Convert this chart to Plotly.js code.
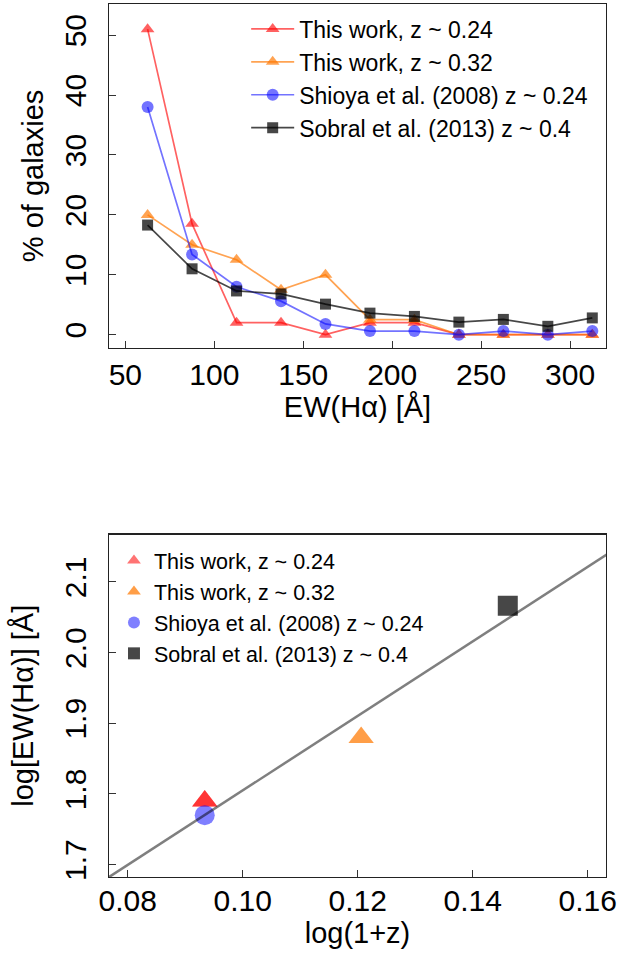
<!DOCTYPE html>
<html>
<head>
<meta charset="utf-8">
<script src="https://cdn.plot.ly/plotly-3.0.1.min.js"></script>
<style>html,body{margin:0;padding:0;background:#fff;}#chart{width:617px;height:953px;}</style>
</head>
<body>
<div id="chart"></div>
<script>
// ---- Top panel: distribution of EW(Halpha) ----
const ewBins = [62.5, 87.5, 112.5, 137.5, 162.5, 187.5, 212.5, 237.5, 262.5, 287.5, 312.5];
const thisWork024 = [51, 18.5, 2, 2, 0, 2, 2, 0, 0, 0, 0];
const thisWork032 = [20, 15, 12.5, 7.5, 10, 2.5, 2.5, 0, 0, 0, 0];
const shioya2008 = [38, 13.4, 8, 5.6, 1.8, 0.6, 0.6, 0, 0.6, 0, 0.6];
const sobral2013 = [18.3, 11, 7.3, 6.8, 5.1, 3.6, 3.05, 2.1, 2.55, 1.4, 2.8];
const seriesNames = ["This work, z ~ 0.24", "This work, z ~ 0.32", "Shioya et al. (2008) z ~ 0.24", "Sobral et al. (2013) z ~ 0.4"];
const xTicksTop = [50, 100, 150, 200, 250, 300];
const yTicksTop = [0, 10, 20, 30, 40, 50];

// ---- Bottom panel: median log EW vs log(1+z) ----
const logOnePlusZ = [0.0934, 0.1206, 0.0934, 0.1461];
const logEW = [1.79, 1.88, 1.77, 2.066];
const fitSlope = 5.27;
const fitIntercept = 1.278;
const fitXExtent = [0.07, 0.17];
const xTicksBot = [0.08, 0.10, 0.12, 0.14, 0.16];
const yTicksBot = [1.7, 1.8, 1.9, 2.0, 2.1];

const cRed = 'rgba(255,0,0,0.62)';
const cOrange = 'rgba(255,120,0,0.68)';
const cBlue = 'rgba(0,0,255,0.55)';
const cBlack = 'rgba(0,0,0,0.72)';
const FONT = 'Liberation Sans, Arial, Helvetica, sans-serif';

const topSeries = [
  {y: thisWork024, color: cRed, symbol: 'triangle-up', size: 12},
  {y: thisWork032, color: cOrange, symbol: 'triangle-up', size: 12},
  {y: shioya2008, color: cBlue, symbol: 'circle', size: 12},
  {y: sobral2013, color: cBlack, symbol: 'square', size: 11}
];

const traces = [];
topSeries.forEach((s, i) => {
  traces.push({
    type: 'scatter', mode: 'lines+markers', x: ewBins, y: s.y, name: seriesNames[i],
    xaxis: 'x', yaxis: 'y', legend: 'legend', cliponaxis: false,
    line: {color: s.color, width: 1.7},
    marker: {color: s.color, symbol: s.symbol, size: s.size}
  });
});

const botStyle = [
  {color: 'rgba(255,0,0,0.55)', symbol: 'triangle-up', size: 22},
  {color: 'rgba(255,120,0,0.72)', symbol: 'triangle-up', size: 22},
  {color: 'rgba(0,0,255,0.5)', symbol: 'circle', size: 20},
  {color: 'rgba(0,0,0,0.72)', symbol: 'square', size: 20}
];
botStyle.forEach((s, i) => {
  traces.push({
    type: 'scatter', mode: 'markers', x: [logOnePlusZ[i]], y: [logEW[i]], name: seriesNames[i],
    xaxis: 'x2', yaxis: 'y2', legend: 'legend2',
    marker: {color: s.color, symbol: s.symbol, size: s.size}
  });
  if (i === 0) {
    traces.push({
      type: 'scatter', mode: 'markers', x: [logOnePlusZ[i]], y: [logEW[i]], showlegend: false,
      xaxis: 'x2', yaxis: 'y2', marker: {color: s.color, symbol: s.symbol, size: s.size}
    });
  }
});
traces.push({
  type: 'scatter', mode: 'lines', showlegend: false, xaxis: 'x2', yaxis: 'y2',
  x: fitXExtent, y: fitXExtent.map(v => fitIntercept + fitSlope * v),
  line: {color: 'rgba(0,0,0,0.5)', width: 2.5}
});

const axisCommon = {
  showline: true, mirror: true, linecolor: '#222', linewidth: 1.2,
  ticks: 'inside', ticklen: 7, tickwidth: 1, tickcolor: '#333',
  showgrid: false, zeroline: false,
  tickfont: {family: FONT, size: 30, color: '#000'}
};
const titleFont = {family: FONT, size: 29, color: '#000'};

const layout = {
  width: 617, height: 953,
  margin: {l: 109, r: 11, t: 4, b: 76},
  paper_bgcolor: '#fff', plot_bgcolor: '#fff',
  font: {family: FONT, color: '#000'},
  showlegend: true,
  xaxis: Object.assign({}, axisCommon, {
    domain: [0, 1], anchor: 'y', range: [40.8, 320.2], tickvals: xTicksTop,
    title: {text: 'EW(Hα) [Å]', font: titleFont, standoff: 3}
  }),
  yaxis: Object.assign({}, axisCommon, {
    domain: [0.6061, 1], anchor: 'x', range: [-2.2, 55.2], tickvals: yTicksTop, tickangle: -90,
    ticklabelstandoff: 10,
    title: {text: '% of galaxies', font: titleFont, standoff: 6}
  }),
  xaxis2: Object.assign({}, axisCommon, {
    domain: [0, 1], anchor: 'y2', range: [0.07675, 0.16318], tickvals: xTicksBot, tickformat: '.2f',
    ticklabelstandoff: -3,
    title: {text: 'log(1+z)', font: titleFont, standoff: 0}
  }),
  yaxis2: Object.assign({}, axisCommon, {
    domain: [0, 0.3923], anchor: 'x2', range: [1.6826, 2.1669], tickvals: yTicksBot, tickformat: '.1f', tickangle: -90,
    ticklabelstandoff: 10,
    title: {text: 'log[EW(Hα)] [Å]', font: titleFont, standoff: 16}
  }),
  legend: {
    x: 0.276, y: 0.996, xanchor: 'left', yanchor: 'top', bgcolor: 'rgba(0,0,0,0)',
    font: {family: FONT, size: 23, color: '#000'}, itemwidth: 43, tracegroupgap: 0
  },
  legend2: {
    x: 0.01, y: 0.386, xanchor: 'left', yanchor: 'top', bgcolor: 'rgba(0,0,0,0)',
    font: {family: FONT, size: 21.5, color: '#000'}, itemsizing: 'constant', tracegroupgap: 0
  }
};

Plotly.newPlot('chart', traces, layout, {staticPlot: true, displayModeBar: false});
</script>
</body>
</html>
